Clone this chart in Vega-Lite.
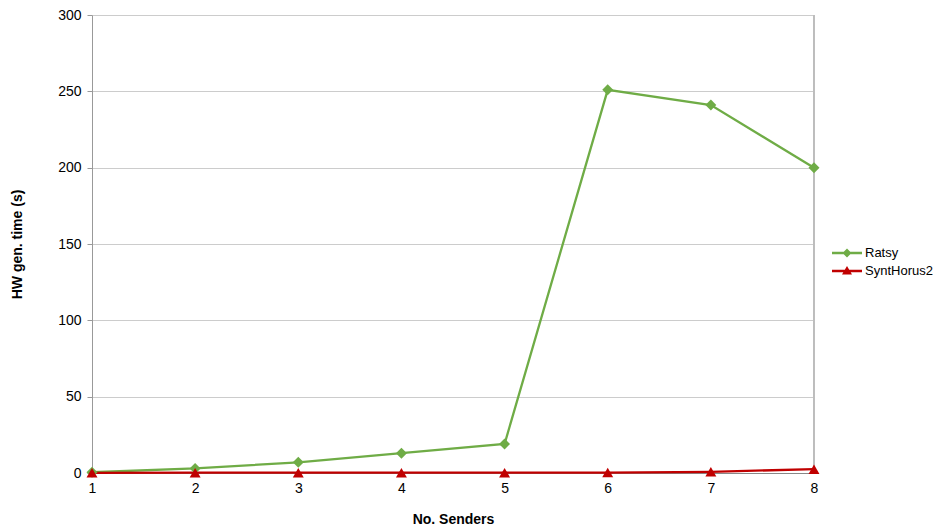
{
  "$schema": "https://vega.github.io/schema/vega-lite/v6.json",
  "autosize": "none",
  "width": 722,
  "height": 458,
  "padding": {"left": 92, "top": 15, "right": 126, "bottom": 55},
  "background": "white",
  "config": {
    "view": {"stroke": null},
    "font": "Liberation Sans"
  },
  "data": {
    "values": [
      {"n": 1, "series": "Ratsy", "t": 0.5},
      {"n": 2, "series": "Ratsy", "t": 3},
      {"n": 3, "series": "Ratsy", "t": 7},
      {"n": 4, "series": "Ratsy", "t": 13},
      {"n": 5, "series": "Ratsy", "t": 19},
      {"n": 6, "series": "Ratsy", "t": 251},
      {"n": 7, "series": "Ratsy", "t": 241},
      {"n": 8, "series": "Ratsy", "t": 200},
      {"n": 1, "series": "SyntHorus2", "t": 0.1},
      {"n": 2, "series": "SyntHorus2", "t": 0.2},
      {"n": 3, "series": "SyntHorus2", "t": 0.2},
      {"n": 4, "series": "SyntHorus2", "t": 0.2},
      {"n": 5, "series": "SyntHorus2", "t": 0.2},
      {"n": 6, "series": "SyntHorus2", "t": 0.3},
      {"n": 7, "series": "SyntHorus2", "t": 0.8},
      {"n": 8, "series": "SyntHorus2", "t": 2.5}
    ]
  },
  "encoding": {
    "x": {
      "field": "n", "type": "quantitative",
      "scale": {"domain": [1, 8], "nice": false, "zero": false},
      "axis": {
        "title": "No. Senders", "titleFontSize": 14, "titleFontWeight": "bold", "titleColor": "#000",
        "titlePadding": 17,
        "values": [1, 2, 3, 4, 5, 6, 7, 8], "format": "d", "labelFlush": false,
        "labelFontSize": 14, "labelColor": "#000", "labelPadding": 8,
        "grid": false, "domainColor": "#888", "ticks": false
      }
    },
    "y": {
      "field": "t", "type": "quantitative",
      "scale": {"domain": [0, 300], "nice": false},
      "axis": {
        "title": "HW gen. time (s)", "titleFontSize": 14, "titleFontWeight": "bold", "titleColor": "#000",
        "titlePadding": 33,
        "values": [0, 50, 100, 150, 200, 250, 300],
        "labelFontSize": 14, "labelColor": "#000", "labelPadding": 6,
        "grid": true, "gridColor": "#cccccc", "domainColor": "#999", "tickColor": "#999", "tickSize": 5
      }
    }
  },
  "layer": [
    {
      "mark": {"type": "rule", "color": "#bdbdbd", "strokeWidth": 1},
      "encoding": {"x": {"datum": 8, "type": "quantitative"}, "y": {"value": 0}, "y2": {"value": 458}}
    },
    {
      "mark": {"type": "line", "strokeWidth": 2.3},
      "encoding": {
        "color": {
          "field": "series", "type": "nominal",
          "scale": {"domain": ["Ratsy", "SyntHorus2"], "range": ["#6fac46", "#c00000"]},
          "legend": {
            "title": null, "orient": "none", "legendX": 745, "legendY": 228,
            "labelFontSize": 13, "labelColor": "#000", "symbolSize": 400,
            "labelOffset": 8, "rowPadding": 1,
            "encode": {
              "symbols": {
                "update": {
                  "shape": {"signal": "datum.value === 'Ratsy' ? 'M-1.5,-0.12H1.5V0.12H-1.5Z M0,-0.45L0.45,0L0,0.45L-0.45,0Z' : 'M-1.5,-0.12H1.5V0.12H-1.5Z M0,-0.5L0.5,0.35L-0.5,0.35Z'"},
                  "fill": {"signal": "datum.value === 'Ratsy' ? '#6fac46' : '#c00000'"},
                  "fillOpacity": {"value": 1},
                  "strokeWidth": {"value": 0}
                }
              }
            }
          }
        }
      }
    },
    {
      "mark": {"type": "point", "size": 120, "filled": true, "opacity": 1},
      "encoding": {
        "fill": {"condition": {"test": "datum.series === 'Ratsy'", "value": "#6fac46"}, "value": "#c00000"},
        "shape": {"condition": {"test": "datum.series === 'Ratsy'", "value": "diamond"}, "value": "triangle-up"}
      }
    }
  ]
}
